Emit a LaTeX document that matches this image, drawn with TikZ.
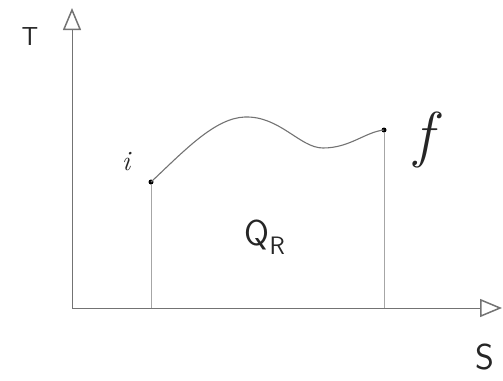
\documentclass[tikz,border=0pt]{standalone}
\usetikzlibrary{arrows.meta}
\begin{document}
\begin{tikzpicture}[x=1pt,y=-1pt,
  axis/.style={draw=black!55,line width=0.9pt,-{Triangle[open,length=22pt,width=18pt,line width=1.5pt]}},
  drop/.style={draw=black!35,line width=0.6pt},
  curve/.style={draw=black!55,line width=1.1pt},
  pt/.style={circle,fill=black,inner sep=0pt,minimum size=5pt},
  lab/.style={font=\sffamily,text=black!85}]
\useasboundingbox (0,0) rectangle (503,380);
\coordinate (O) at (72,308);
\coordinate (Ytop) at (72,8);
\coordinate (Xend) at (502,308);
\draw[axis] (O) -- (Ytop);
\draw[axis] (O) -- (Xend);
\node[pt] (i) at (151,182) {};
\node[pt] (f) at (384,130) {};
\coordinate (ib) at (151,308);
\coordinate (fb) at (384,308);
\draw[drop] (i) -- (ib);
\draw[drop] (f) -- (fb);
\draw[curve] (i.center) .. controls (185,150) and (215,118) .. (245,117)
  .. controls (280,116) and (300,148) .. (323,148)
  .. controls (350,148) and (365,132) .. (f.center);
\node[lab,font=\sffamily\fontsize{26}{26}\selectfont] (T) at (30,37) {T};
\node[lab,font=\sffamily\fontsize{36}{36}\selectfont] (S) at (485,357) {S};
\node[lab,font=\itshape\fontsize{28}{28}\selectfont] (il) at (126,162) {i};
\node[lab,font=\itshape\fontsize{62}{62}\selectfont] (fl) at (424,140) {f};
\node[lab,font=\sffamily\fontsize{36}{36}\selectfont] (Q) at (265,237) {Q\textsubscript{R}};
\end{tikzpicture}
\end{document}
